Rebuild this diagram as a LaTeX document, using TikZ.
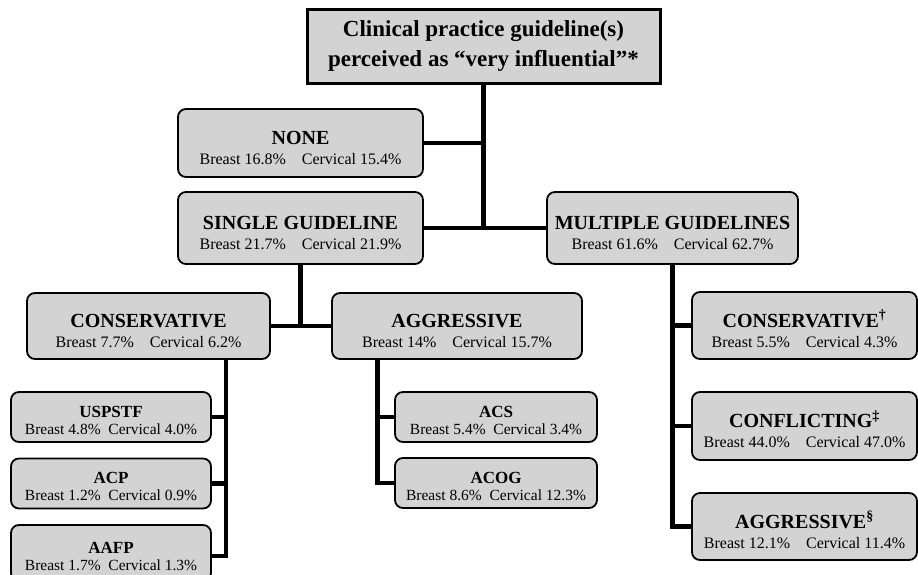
\documentclass[tikz,border=0pt]{standalone}
\usepackage{fontspec}
\setmainfont{Liberation Serif}
\usetikzlibrary{positioning}
\definecolor{boxgray}{RGB}{211,211,211}
\newcommand{\pct}[3][\quad]{Breast #2\%#1Cervical #3\%}
\newcommand{\hd}[1]{\rule{0pt}{24pt}{\fontsize{20}{20}\selectfont\bfseries #1}}
\newcommand{\hdl}[1]{\rule{0pt}{18pt}{\fontsize{17}{17}\selectfont\bfseries #1}}

\begin{document}
\begin{tikzpicture}[x=1pt,y=-1pt,
  box/.style={draw,line width=1.8pt,fill=boxgray,rounded corners=8pt,align=center,inner sep=0pt},
  mid/.style={box,font=\fontsize{16}{20}\selectfont},
  low/.style={box,minimum width=200pt,minimum height=50pt,font=\fontsize{15.5}{17}\selectfont},
  link/.style={line width=4.8pt}]
\useasboundingbox (0,0) rectangle (918,574);
\clip (0,0) rectangle (918,574);
\node[draw,line width=3pt,fill=boxgray,minimum width=353pt,minimum height=74pt,align=center,
  font=\bfseries\fontsize{23}{30}\selectfont] (title) at (483.5,46)
  {Clinical practice guideline(s)\\perceived as “very influential”*};
\node[mid,minimum width=245pt,minimum height=68pt] (none) at (300.5,143) {\hd{NONE}\\\pct{16.8}{15.4}};
\node[mid,minimum width=245pt,minimum height=72pt] (single) at (300.5,228) {\hd{SINGLE GUIDELINE}\\\pct{21.7}{21.9}};
\node[mid,minimum width=251pt,minimum height=72pt] (multi) at (672.5,228) {\hd{MULTIPLE GUIDELINES}\\\pct{61.6}{62.7}};
\node[mid,minimum width=243pt,minimum height=66pt] (scons) at (148.5,326) {\hd{CONSERVATIVE}\\\pct{7.7}{6.2}};
\node[mid,minimum width=250pt,minimum height=66pt] (saggr) at (457,326) {\hd{AGGRESSIVE}\\\pct{14}{15.7}};
\node[low] (uspstf) at (111,417) {\hdl{USPSTF}\\\pct[\enspace]{4.8}{4.0}};
\node[low] (acp) at (111,483.5) {\hdl{ACP}\\\pct[\enspace]{1.2}{0.9}};
\node[low,minimum height=56pt] (aafp) at (111,553) {\hdl{AAFP}\\\pct[\enspace]{1.7}{1.3}};
\node[low,minimum width=202pt] (acs) at (496,417) {\hdl{ACS}\\\pct[\enspace]{5.4}{3.4}};
\node[low,minimum width=202pt] (acog) at (496,483) {\hdl{ACOG}\\\pct[\enspace]{8.6}{12.3}};
\node[mid,minimum width=225pt,minimum height=67pt] (mcons) at (804.5,325.5) {\hd{CONSERVATIVE\textsuperscript{†}}\\\pct{5.5}{4.3}};
\node[mid,minimum width=225pt,minimum height=68pt] (mconf) at (804.5,426) {\hd{CONFLICTING\textsuperscript{‡}}\\\pct{44.0}{47.0}};
\node[mid,minimum width=225pt,minimum height=67pt] (maggr) at (804.5,526.5) {\hd{AGGRESSIVE\textsuperscript{§}}\\\pct{12.1}{11.4}};
\draw[link] (title.south) -- (title.south |- single.east);
\draw[link] (none.east) -- (none.east -| title.south);
\draw[link] (single.east) -- (multi.west);
\draw[link] (single.south) -- (single.south |- scons.east);
\draw[link] (scons.east) -- (saggr.west);
\coordinate (cdrop) at ([xshift=-45pt]scons.south east);
\draw[link] (cdrop) |- ([yshift=-3pt]aafp.east);
\draw[link] (uspstf.east) -- (uspstf.east -| cdrop);
\draw[link] (acp.east) -- (acp.east -| cdrop);
\coordinate (adrop) at ([xshift=46pt]saggr.south west);
\draw[link] (adrop) |- (acog.west);
\draw[link] (acs.west) -- (acs.west -| adrop);
\draw[link] (multi.south) |- (maggr.west);
\draw[link] (mcons.west) -- (mcons.west -| multi.south);
\draw[link] (mconf.west) -- (mconf.west -| multi.south);
\end{tikzpicture}
\end{document}
